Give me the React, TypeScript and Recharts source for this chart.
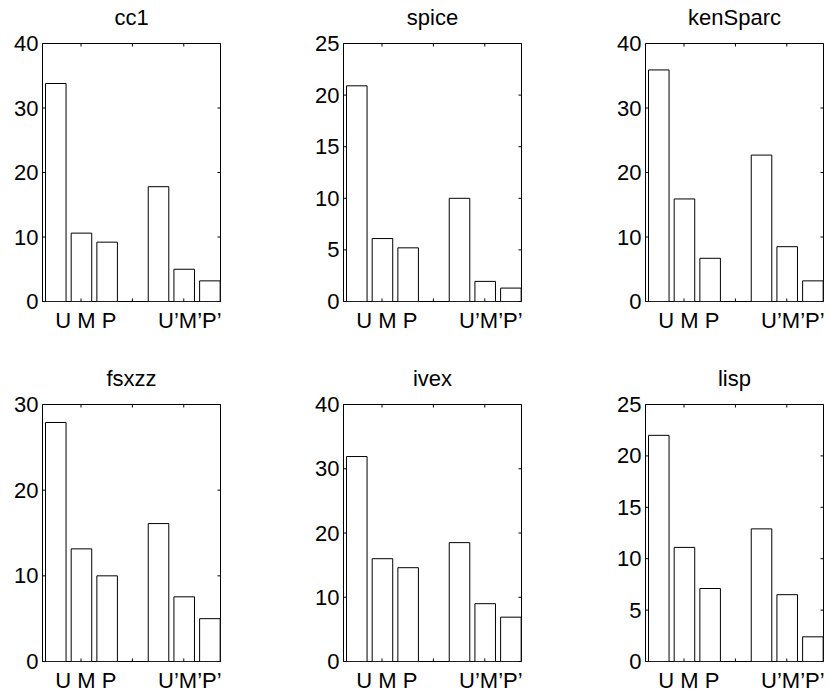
import React from 'react';
import { ComposedChart, Bar, XAxis, YAxis, ReferenceArea } from 'recharts';

// ---- data ----
const titles = ['cc1', 'spice', 'kenSparc', 'fsxzz', 'ivex', 'lisp'];
const barPositions = [1, 2, 3, 5, 6, 7];
const groupLabels = ['U M P', 'U\u2019M\u2019P\u2019'];
const groupLabelPositions = [1, 5];
const innerTickPositions = [2, 4, 6];

const cc1 = [33.8, 10.6, 9.2, 17.8, 5.0, 3.2];
const spice = [20.9, 6.1, 5.2, 10.0, 1.95, 1.3];
const kenSparc = [35.9, 15.9, 6.7, 22.7, 8.5, 3.2];
const fsxzz = [27.9, 13.15, 10.0, 16.1, 7.55, 5.0];
const ivex = [31.9, 16.0, 14.6, 18.5, 9.0, 6.9];
const lisp = [22.0, 11.1, 7.1, 12.9, 6.5, 2.4];

const ticks40 = [0, 10, 20, 30, 40];
const ticks30 = [0, 10, 20, 30];
const ticks25 = [0, 5, 10, 15, 20, 25];

const seriesList = [cc1, spice, kenSparc, fsxzz, ivex, lisp];
const yTickList = [ticks40, ticks25, ticks40, ticks30, ticks40, ticks25];

// ---- layout / style ----
const X_DOMAIN: [number, number] = [0.5, 7.43];
const FONT = '"Liberation Sans", Arial, Helvetica, sans-serif';
const FS = 22;
const PANEL_LEFT = [42.5, 343.5, 645.5];
const PANEL_TOP = [43.5, 404.5];
const PANEL_H = [258, 257];
const PLOT_W = 178;
const AXIS_W = 42.5;
const MARGIN_TOP = 43.5;
const RIGHT_M = 8;
const X_H = 45;
const TICK_LEN = 3;
const BAR_PX = 0.8 * (PLOT_W / (X_DOMAIN[1] - X_DOMAIN[0]));

function Panel({ title, values, yTicks, col, row }: any) {
  const pl = PANEL_LEFT[col];
  const pt = PANEL_TOP[row];
  const ph = PANEL_H[row];
  const yMax = yTicks[yTicks.length - 1];
  const data = barPositions.map((x, i) => ({ x, v: values[i] }));
  const plotL = AXIS_W;
  const plotR = AXIS_W + PLOT_W;
  const plotT = MARGIN_TOP;
  const plotB = MARGIN_TOP + ph;
  const xTicks = [...innerTickPositions, ...groupLabelPositions].sort((a, b) => a - b);

  const renderYTick = (p: any) => {
    const y = p.y;
    return (
      <g>
        <text x={plotL - 4} y={y} textAnchor="end" dominantBaseline="central" fontSize={FS} fontFamily={FONT} fill="#000">
          {p.payload.value}
        </text>
        <line x1={plotL} x2={plotL + TICK_LEN} y1={y} y2={y} stroke="#000" strokeWidth={1} />
        <line x1={plotR - TICK_LEN} x2={plotR} y1={y} y2={y} stroke="#000" strokeWidth={1} />
      </g>
    );
  };

  const renderXTick = (p: any) => {
    const x = p.x;
    const v = p.payload.value;
    const li = groupLabelPositions.indexOf(v);
    if (li >= 0) {
      return (
        <text x={x} y={plotB + 26} textAnchor="start" fontSize={FS} fontFamily={FONT} fill="#000">
          {groupLabels[li]}
        </text>
      );
    }
    return (
      <g>
        <line x1={x} x2={x} y1={plotB} y2={plotB - TICK_LEN} stroke="#000" strokeWidth={1} />
        <line x1={x} x2={x} y1={plotT} y2={plotT + TICK_LEN} stroke="#000" strokeWidth={1} />
      </g>
    );
  };

  return (
    <>
      <div
        style={{
          position: 'absolute',
          left: pl,
          width: PLOT_W,
          top: pt - 17.5 - 0.8465 * FS,
          textAlign: 'center',
          fontSize: FS,
          lineHeight: FS + 'px',
          fontFamily: FONT,
          color: '#000',
          whiteSpace: 'nowrap',
        }}
      >
        {title}
      </div>
      <div style={{ position: 'absolute', left: pl - AXIS_W, top: pt - MARGIN_TOP }}>
        <ComposedChart
          width={AXIS_W + PLOT_W + RIGHT_M}
          height={MARGIN_TOP + ph + X_H}
          data={data}
          margin={{ top: MARGIN_TOP, right: RIGHT_M, bottom: 0, left: 0 }}
        >
          <XAxis
            dataKey="x"
            type="number"
            domain={X_DOMAIN}
            ticks={xTicks}
            interval={0}
            axisLine={false}
            tickLine={false}
            height={X_H}
            tick={renderXTick}
            allowDataOverflow
          />
          <YAxis
            type="number"
            domain={[0, yMax]}
            ticks={yTicks}
            interval={0}
            axisLine={false}
            tickLine={false}
            width={AXIS_W}
            tick={renderYTick}
            allowDataOverflow
          />
          <Bar dataKey="v" fill="#fff" stroke="#000" strokeWidth={1} barSize={BAR_PX} isAnimationActive={false} />
          <ReferenceArea
            x1={X_DOMAIN[0]}
            x2={X_DOMAIN[1]}
            y1={0}
            y2={yMax}
            fill="none"
            fillOpacity={0}
            stroke="#000"
            strokeWidth={1}
            strokeOpacity={1}
            ifOverflow="visible"
          />
        </ComposedChart>
      </div>
    </>
  );
}

export default function App() {
  return (
    <div style={{ position: 'absolute', left: 0, top: 0, width: 830, height: 692, background: '#fff', overflow: 'hidden' }}>
      {titles.map((t, i) => (
        <Panel key={t} title={t} values={seriesList[i]} yTicks={yTickList[i]} col={i % 3} row={Math.floor(i / 3)} />
      ))}
    </div>
  );
}
